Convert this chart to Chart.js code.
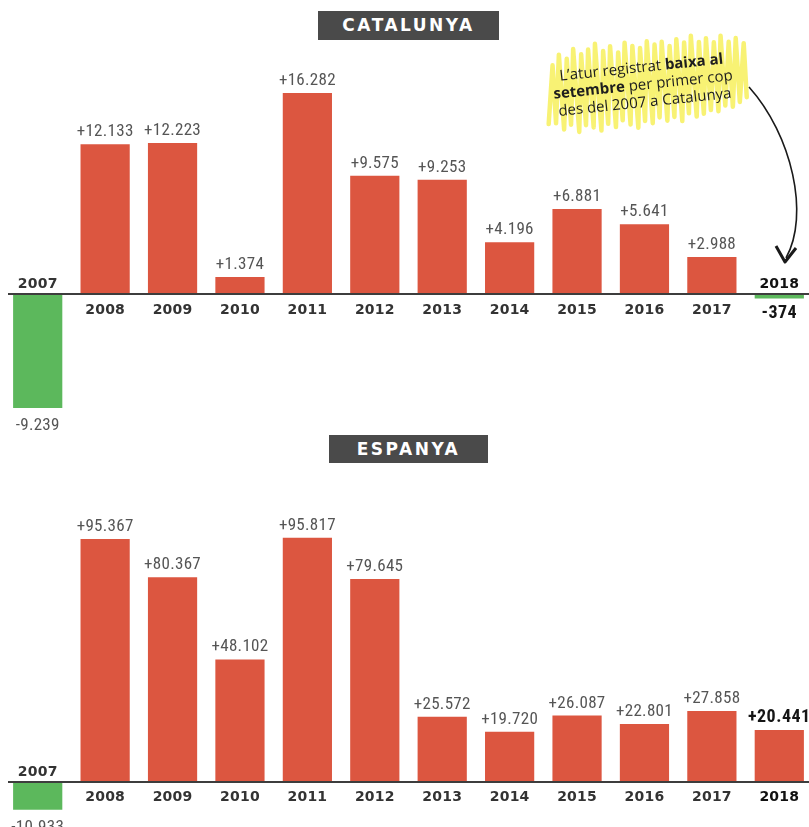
<!DOCTYPE html>
<html>
<head>
<meta charset="utf-8">
<script src="https://cdn.jsdelivr.net/npm/chart.js@4.4.0/dist/chart.umd.min.js"></script>
<style>
  html, body { margin: 0; padding: 0; background: #fff; width: 809px; height: 827px; overflow: hidden; }
  .panel { position: absolute; left: 0; }
  .title {
    position: absolute; background: #4a4a4a; color: #fff;
    font: bold 17px "DejaVu Sans", sans-serif; letter-spacing: 2.5px;
    text-align: center; z-index: 2;
  }
</style>
</head>
<body>
<div class="title" style="left:318px;top:11px;width:181px;height:29px;line-height:29px;">CATALUNYA</div>
<div class="title" style="left:329px;top:435px;width:159px;height:28px;line-height:28px;">ESPANYA</div>

<div class="panel" style="top:30px;"><canvas id="catChart" width="813" height="405"></canvas></div>
<div class="panel" style="top:470px;"><canvas id="espChart" width="813" height="357"></canvas></div>

<script>
// Variació de l'atur registrat al mes de setembre, per any
const years = ['2007', '2008', '2009', '2010', '2011', '2012', '2013', '2014', '2015', '2016', '2017', '2018'];
const catalunyaValues = [-9239, 12133, 12223, 1374, 16282, 9575, 9253, 4196, 6881, 5641, 2988, -374];
const espanyaValues = [-10933, 95367, 80367, 48102, 95817, 79645, 25572, 19720, 26087, 22801, 27858, 20441];
const highlightYear = '2018';

const RED = '#dc5640';
const GREEN = '#5cb85c';
const VALUE_FONT = '"Liberation Sans Narrow", "Roboto Condensed", "DejaVu Sans Condensed", Roboto, sans-serif';
const YEAR_FONT = '"DejaVu Sans", sans-serif';

function formatValue(v) {
    const s = Math.abs(v).toString().replace(/\B(?=(\d{3})+(?!\d))/g, '.');
    return (v < 0 ? '-' : '+') + s;
}

// Etiquetes de valor, anys i línia base
const barLabels = {
    id: 'barLabels',
    afterDatasetsDraw(chart) {
        const ctx = chart.ctx;
        const meta = chart.getDatasetMeta(0);
        const values = chart.data.datasets[0].data;
        const zeroY = chart.scales.y.getPixelForValue(0);

        ctx.save();
        // línia base
        ctx.strokeStyle = '#3d3d3d';
        ctx.lineWidth = 2;
        ctx.beginPath();
        ctx.moveTo(8, zeroY);
        ctx.lineTo(chart.width, zeroY);
        ctx.stroke();

        ctx.textAlign = 'center';
        meta.data.forEach((bar, i) => {
            const v = values[i];
            const year = chart.data.labels[i];
            const hl = year === highlightYear;

            // valor
            ctx.fillStyle = hl ? '#151515' : '#555';
            ctx.font = (hl ? 'bold 18px ' : '17px ') + VALUE_FONT;
            ctx.letterSpacing = hl ? '0.5px' : '0.3px';
            if (v >= 0) {
                ctx.textBaseline = 'alphabetic';
                ctx.fillText(formatValue(v), bar.x, bar.y - 8);
            } else {
                ctx.textBaseline = 'top';
                ctx.fillText(formatValue(v), bar.x, bar.y + (hl ? 6 : 9));
            }

            // any
            ctx.fillStyle = hl ? '#111' : '#333';
            ctx.font = 'bold 14px ' + YEAR_FONT;
            ctx.letterSpacing = '0.2px';
            ctx.textBaseline = 'alphabetic';
            ctx.fillText(year, bar.x, v >= 0 ? zeroY + 19.5 : zeroY - 6);
        });
        ctx.restore();
    }
};

// Nota amb ratllat groc i fletxa (només Catalunya)
const noteAnnotation = {
    id: 'noteAnnotation',
    beforeDatasetsDraw(chart) {
        const ctx = chart.ctx;
        const oy = 30; // desplaçament del canvas a la pàgina
        ctx.save();
        ctx.translate(643, 84 - oy);
        ctx.rotate(-6 * Math.PI / 180);

        // ratllat groc
        const tops = [-28, -38, -33, -42, -36, -40, -45, -37, -41, -34, -43, -39, -36, -42, -38, -40, -35, -41, -37, -43, -36, -39, -34, -40, -33, -36, -30];
        const bottoms = [30, 37, 33, 41, 35, 38, 42, 36, 40, 34, 39, 43, 37, 40, 35, 39, 36, 41, 34, 38, 36, 33, 35, 30, 32, 28, 24];
        ctx.strokeStyle = 'rgba(246, 238, 70, 0.75)';
        ctx.lineWidth = 4.5;
        ctx.lineJoin = 'round';
        ctx.lineCap = 'round';
        ctx.beginPath();
        for (let i = 0; i < tops.length; i++) {
            const x = -98 + i * 7.4;
            if (i === 0) ctx.moveTo(x, bottoms[i]);
            ctx.lineTo(x + 10, tops[i]);
            ctx.lineTo(x + 7.4, bottoms[i]);
        }
        ctx.stroke();

        // text
        const lines = [
            [['L\u2019atur registrat ', false], ['baixa al', true]],
            [['setembre', true], [' per primer cop', false]],
            [['des del 2007 a Catalunya', false]]
        ];
        ctx.fillStyle = '#1e1e1e';
        ctx.textBaseline = 'alphabetic';
        ctx.textAlign = 'left';
        const fontFor = b => (b ? 'bold ' : '') + '15px "Open Sans", sans-serif';
        lines.forEach((parts, li) => {
            let w = 0;
            parts.forEach(([t, b]) => { ctx.font = fontFor(b); w += ctx.measureText(t).width; });
            let x = -w / 2;
            parts.forEach(([t, b]) => {
                ctx.font = fontFor(b);
                ctx.fillText(t, x, -12 + li * 17.5);
                x += ctx.measureText(t).width;
            });
        });
        ctx.restore();

        // fletxa
        ctx.save();
        ctx.strokeStyle = '#1a1a1a';
        ctx.lineWidth = 1.6;
        ctx.beginPath();
        ctx.moveTo(749, 87 - oy);
        ctx.bezierCurveTo(792, 105, 810, 185, 786, 258 - oy);
        ctx.stroke();
        ctx.lineWidth = 3;
        ctx.lineJoin = 'round';
        ctx.beginPath();
        ctx.moveTo(776, 246 - oy);
        ctx.lineTo(785, 262 - oy);
        ctx.lineTo(796, 248 - oy);
        ctx.stroke();
        ctx.restore();
    }
};

function makeChart(id, values, yMin, yMax, plugins) {
    return new Chart(document.getElementById(id), {
        type: 'bar',
        data: {
            labels: years,
            datasets: [{
                data: values,
                backgroundColor: values.map(v => v < 0 ? GREEN : RED),
                borderWidth: 0,
                categoryPercentage: 1,
                barPercentage: 0.73
            }]
        },
        options: {
            responsive: false,
            animation: false,
            layout: { padding: { left: 4, right: 0, top: 0, bottom: 0 } },
            plugins: {
                legend: { display: false },
                tooltip: { enabled: false }
            },
            scales: {
                x: { display: false },
                y: { display: false, min: yMin, max: yMax }
            }
        },
        plugins: plugins
    });
}

makeChart('catChart', catalunyaValues, -11417, 21377, [noteAnnotation, barLabels]);
makeChart('espChart', espanyaValues, -17661, 122449, [barLabels]);
</script>
</body>
</html>
